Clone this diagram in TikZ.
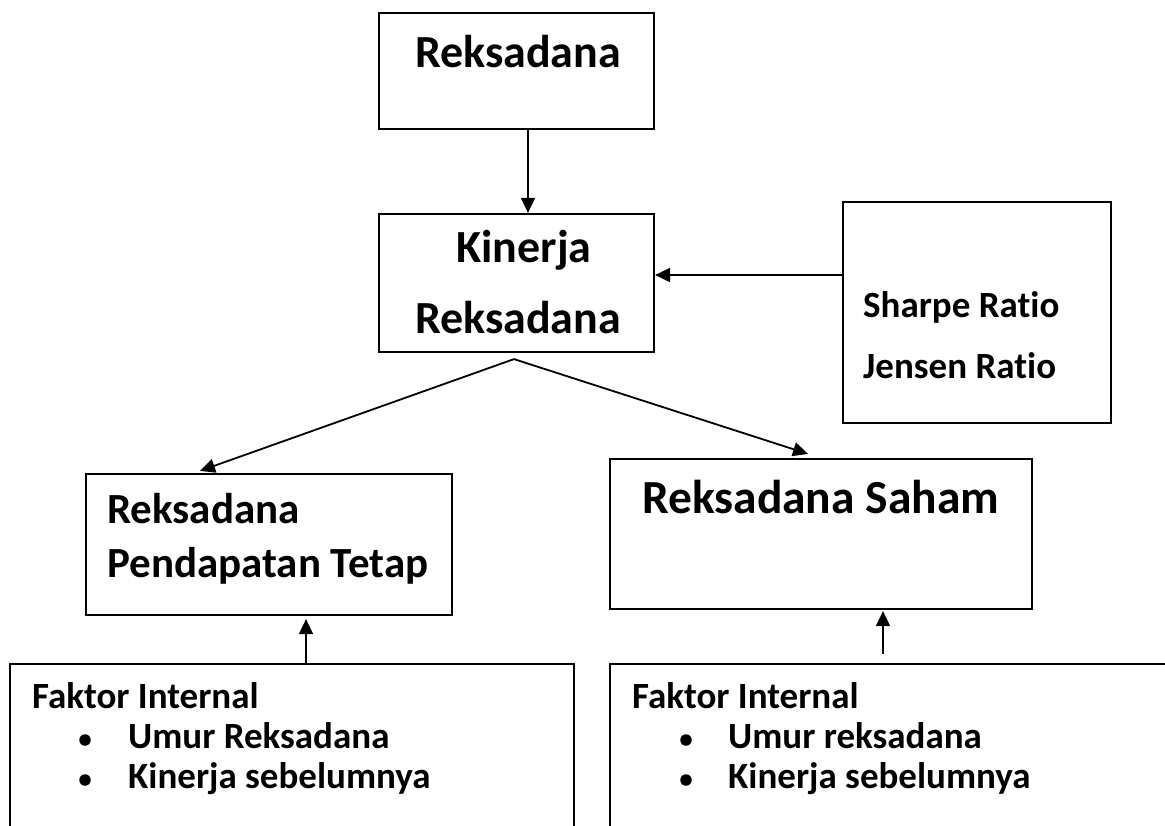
\documentclass[tikz,border=0pt]{standalone}
\usepackage{fontspec}
\setmainfont{Carlito}[Ligatures={NoCommon}]
\usetikzlibrary{arrows.meta}
\begin{document}
\begin{tikzpicture}[x=1pt,y=-1pt,
  box/.style={draw,line width=2.2pt,rectangle,inner sep=0pt},
  conn/.style={line width=1.8pt,-{Triangle[length=15pt,width=14pt]}},
  lbl/.style={inner sep=0pt,anchor=base west},
  lblc/.style={inner sep=0pt,anchor=base},
  huge/.style={font=\bfseries\fontsize{46}{55}\selectfont},
  hugeplus/.style={font=\bfseries\fontsize{47.5}{57}\selectfont},
  large/.style={font=\bfseries\fontsize{43}{51}\selectfont},
  medium/.style={font=\bfseries\fontsize{37}{44}\selectfont},
  bul/.style={circle,fill,inner sep=0pt,minimum size=11.5pt}
]
\clip (0,0) rectangle (1165,825);
\fill[white] (0,0) rectangle (1165,825);

% boxes
\node[box,minimum width=275pt,minimum height=116pt] (top) at (516.5,71) {};
\node[box,minimum width=275pt,minimum height=138pt] (kin) at (516.5,283) {};
\node[box,minimum width=268pt,minimum height=221pt] (ratio) at (977,312.5) {};
\node[box,minimum width=366pt,minimum height=141pt] (rpt) at (269,544.5) {};
\node[box,minimum width=422pt,minimum height=150pt] (saham) at (821,534) {};
\node[box,minimum width=564pt,minimum height=236pt] (fl) at (292,782) {};
\node[box,minimum width=590pt,minimum height=236pt] (fr) at (905,782) {};

% box texts
\node[lblc,huge] (tTop) at (518,67) {Reksadana};
\node[lblc,huge] (tKin1) at (524,262) {Kinerja};
\node[lblc,huge] (tKin2) at (518,333) {Reksadana};
\node[lbl,medium] (tSharpe) at (863,317) {Sharpe Ratio};
\node[lbl,medium] (tJensen) at (863,378) {Jensen Ratio};
\node[lbl,large] (tRpt1) at (107,523) {Reksadana};
\node[lbl,large] (tRpt2) at (107,577) {Pendapatan Tetap};
\node[lbl,hugeplus] (tSaham) at (642,513) {Reksadana Saham};

\node[lbl,medium] (tFl) at (32,708) {Faktor Internal};
\node[bul] (bl1) at (85,740) {};
\node[lbl,medium] (tFl1) at (128,748) {Umur Reksadana};
\node[bul] (bl2) at (85,780) {};
\node[lbl,medium] (tFl2) at (128,788) {Kinerja sebelumnya};

\node[lbl,medium] (tFr) at (632,708) {Faktor Internal};
\node[bul] (br1) at (686,740) {};
\node[lbl,medium] (tFr1) at (728,748) {Umur reksadana};
\node[bul] (br2) at (686,780) {};
\node[lbl,medium] (tFr2) at (728,788) {Kinerja sebelumnya};

% connectors
\draw[conn] ([xshift=11.5pt]top.south) -- ([xshift=11.5pt]kin.north);
\draw[conn] ([yshift=37.5pt]ratio.west) -- ([yshift=37.5pt]ratio.west -| kin.east);
\coordinate (fork) at ([xshift=-2.5pt,yshift=-6pt]kin.south);
\draw[conn] (fork) -- ([xshift=-69pt,yshift=2pt]rpt.north);
\draw[conn] (fork) -- ([xshift=-13pt,yshift=4pt]saham.north);
\draw[conn] ([xshift=14pt]fl.north) -- ([xshift=37pt,yshift=-3pt]rpt.south);
\draw[conn] ([xshift=-22pt,yshift=9pt]fr.north) -- ([xshift=62pt,yshift=-1pt]saham.south);
\end{tikzpicture}
\end{document}
